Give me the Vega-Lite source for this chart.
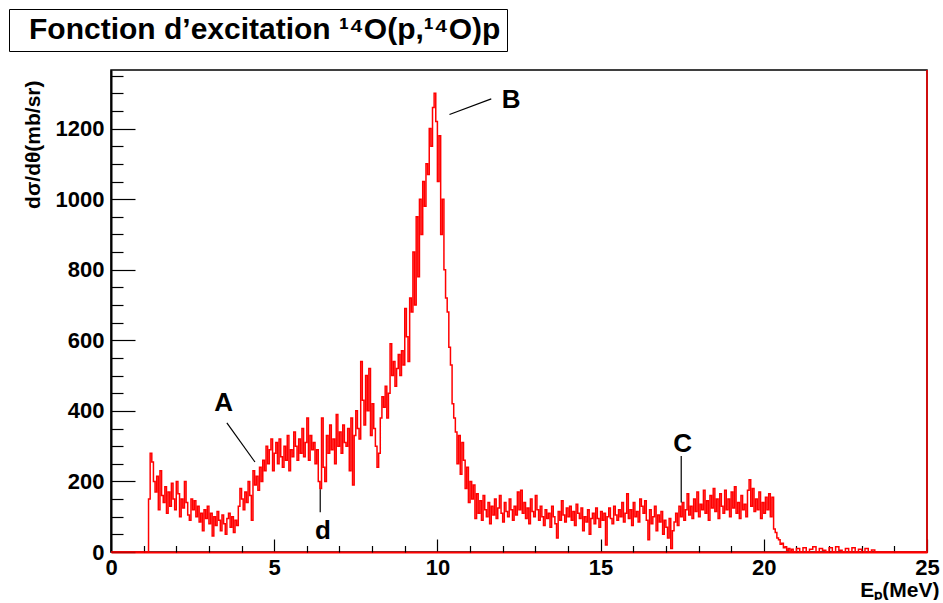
{
"$schema": "https://vega.github.io/schema/vega-lite/v6.json",
"padding": {"left": 8, "top": 8, "right": 0, "bottom": 0},
"background": "white",
"width": 816,
"height": 482,
"view": {"stroke": "black", "strokeWidth": 1.5},
"config": {
  "font": "Liberation Sans",
  "axis": {"labelFontWeight": "bold", "titleFontWeight": "bold", "labelColor": "black", "titleColor": "black", "tickColor": "black", "grid": false, "labelFontSize": 22, "titleFontSize": 21, "tickWidth": 1.2, "labelFlush": false}
},
"datasets": {
  "hist": [
{"E":0.0,"s":0},{"E":0.1,"s":0},{"E":0.2,"s":0},{"E":0.3,"s":0},{"E":0.4,"s":0},{"E":0.5,"s":0},{"E":0.6,"s":0},{"E":0.7,"s":0},{"E":0.8,"s":0},{"E":0.9,"s":0},{"E":1.0,"s":0},{"E":1.1,"s":0},
{"E":1.15,"s":150},{"E":1.2,"s":280},{"E":1.25,"s":255},{"E":1.3,"s":200},{"E":1.35,"s":170},{"E":1.4,"s":215},{"E":1.45,"s":120},{"E":1.5,"s":230},{"E":1.55,"s":160},{"E":1.6,"s":140},{"E":1.65,"s":185},{"E":1.7,"s":110},{"E":1.75,"s":170},{"E":1.8,"s":130},{"E":1.85,"s":195},{"E":1.9,"s":150},{"E":1.95,"s":120},
{"E":2.0,"s":200},{"E":2.05,"s":165},{"E":2.1,"s":100},{"E":2.15,"s":150},{"E":2.2,"s":125},{"E":2.25,"s":200},{"E":2.3,"s":140},{"E":2.35,"s":105},{"E":2.4,"s":90},{"E":2.45,"s":150},{"E":2.5,"s":120},{"E":2.55,"s":145},{"E":2.6,"s":100},{"E":2.65,"s":130},{"E":2.7,"s":85},{"E":2.75,"s":110},{"E":2.8,"s":60},{"E":2.85,"s":120},{"E":2.9,"s":95},{"E":2.95,"s":130},
{"E":3.0,"s":80},{"E":3.05,"s":110},{"E":3.1,"s":45},{"E":3.15,"s":100},{"E":3.2,"s":75},{"E":3.25,"s":115},{"E":3.3,"s":90},{"E":3.35,"s":60},{"E":3.4,"s":105},{"E":3.45,"s":80},{"E":3.5,"s":50},{"E":3.55,"s":95},{"E":3.6,"s":110},{"E":3.65,"s":70},{"E":3.7,"s":100},{"E":3.75,"s":55},{"E":3.8,"s":90},{"E":3.85,"s":75},{"E":3.9,"s":130},{"E":3.95,"s":180},
{"E":4.0,"s":150},{"E":4.05,"s":120},{"E":4.1,"s":170},{"E":4.15,"s":140},{"E":4.2,"s":200},{"E":4.25,"s":160},{"E":4.3,"s":90},{"E":4.35,"s":230},{"E":4.4,"s":190},{"E":4.45,"s":215},{"E":4.5,"s":175},{"E":4.55,"s":240},{"E":4.6,"s":200},{"E":4.65,"s":260},{"E":4.7,"s":230},{"E":4.75,"s":300},{"E":4.8,"s":250},{"E":4.85,"s":290},{"E":4.9,"s":320},{"E":4.95,"s":230},
{"E":5.0,"s":280},{"E":5.05,"s":310},{"E":5.1,"s":250},{"E":5.15,"s":320},{"E":5.2,"s":270},{"E":5.25,"s":240},{"E":5.3,"s":300},{"E":5.35,"s":260},{"E":5.4,"s":330},{"E":5.45,"s":230},{"E":5.5,"s":290},{"E":5.55,"s":270},{"E":5.6,"s":340},{"E":5.65,"s":300},{"E":5.7,"s":260},{"E":5.75,"s":320},{"E":5.8,"s":280},{"E":5.85,"s":350},{"E":5.9,"s":270},{"E":5.95,"s":310},
{"E":6.0,"s":380},{"E":6.05,"s":260},{"E":6.1,"s":330},{"E":6.15,"s":290},{"E":6.2,"s":310},{"E":6.25,"s":250},{"E":6.3,"s":290},{"E":6.35,"s":200},{"E":6.4,"s":180},{"E":6.45,"s":380},{"E":6.5,"s":240},{"E":6.55,"s":200},{"E":6.6,"s":330},{"E":6.65,"s":280},{"E":6.7,"s":360},{"E":6.75,"s":290},{"E":6.8,"s":320},{"E":6.85,"s":250},{"E":6.9,"s":390},{"E":6.95,"s":300},
{"E":7.0,"s":340},{"E":7.05,"s":280},{"E":7.1,"s":360},{"E":7.15,"s":310},{"E":7.2,"s":300},{"E":7.25,"s":350},{"E":7.3,"s":230},{"E":7.35,"s":380},{"E":7.4,"s":190},{"E":7.45,"s":330},{"E":7.5,"s":400},{"E":7.55,"s":350},{"E":7.6,"s":320},{"E":7.65,"s":540},{"E":7.7,"s":430},{"E":7.75,"s":360},{"E":7.8,"s":500},{"E":7.85,"s":400},{"E":7.9,"s":520},{"E":7.95,"s":330},
{"E":8.0,"s":420},{"E":8.05,"s":350},{"E":8.1,"s":300},{"E":8.15,"s":240},{"E":8.2,"s":280},{"E":8.25,"s":380},{"E":8.3,"s":440},{"E":8.35,"s":410},{"E":8.4,"s":470},{"E":8.45,"s":380},{"E":8.5,"s":450},{"E":8.55,"s":590},{"E":8.6,"s":500},{"E":8.65,"s":540},{"E":8.7,"s":470},{"E":8.75,"s":520},{"E":8.8,"s":560},{"E":8.85,"s":500},{"E":8.9,"s":570},{"E":8.95,"s":530},
{"E":9.0,"s":690},{"E":9.05,"s":610},{"E":9.1,"s":540},{"E":9.15,"s":720},{"E":9.2,"s":680},{"E":9.25,"s":850},{"E":9.3,"s":700},{"E":9.35,"s":950},{"E":9.4,"s":780},{"E":9.45,"s":1000},{"E":9.5,"s":900},{"E":9.55,"s":1050},{"E":9.6,"s":980},{"E":9.65,"s":1100},{"E":9.7,"s":1070},{"E":9.75,"s":1200},{"E":9.8,"s":1150},{"E":9.85,"s":1260},{"E":9.9,"s":1300},{"E":9.95,"s":1220},
{"E":10.0,"s":1050},{"E":10.05,"s":1180},{"E":10.1,"s":900},{"E":10.15,"s":1000},{"E":10.2,"s":800},{"E":10.25,"s":720},{"E":10.3,"s":680},{"E":10.35,"s":580},{"E":10.4,"s":530},{"E":10.45,"s":420},{"E":10.5,"s":380},{"E":10.55,"s":340},{"E":10.6,"s":250},{"E":10.65,"s":330},{"E":10.7,"s":220},{"E":10.75,"s":310},{"E":10.8,"s":260},{"E":10.85,"s":180},{"E":10.9,"s":240},{"E":10.95,"s":140},
{"E":11.0,"s":200},{"E":11.05,"s":150},{"E":11.1,"s":190},{"E":11.15,"s":95},{"E":11.2,"s":165},{"E":11.25,"s":110},{"E":11.3,"s":145},{"E":11.35,"s":90},{"E":11.4,"s":160},{"E":11.45,"s":120},{"E":11.5,"s":100},{"E":11.55,"s":140},{"E":11.6,"s":80},{"E":11.65,"s":130},{"E":11.7,"s":105},{"E":11.75,"s":150},{"E":11.8,"s":95},{"E":11.85,"s":125},{"E":11.9,"s":160},{"E":11.95,"s":110},
{"E":12.0,"s":85},{"E":12.05,"s":140},{"E":12.1,"s":115},{"E":12.15,"s":100},{"E":12.2,"s":150},{"E":12.25,"s":120},{"E":12.3,"s":90},{"E":12.35,"s":130},{"E":12.4,"s":105},{"E":12.45,"s":170},{"E":12.5,"s":120},{"E":12.55,"s":175},{"E":12.6,"s":110},{"E":12.65,"s":140},{"E":12.7,"s":95},{"E":12.75,"s":125},{"E":12.8,"s":80},{"E":12.85,"s":150},{"E":12.9,"s":115},{"E":12.95,"s":100},
{"E":13.0,"s":160},{"E":13.05,"s":120},{"E":13.1,"s":90},{"E":13.15,"s":130},{"E":13.2,"s":100},{"E":13.25,"s":75},{"E":13.3,"s":120},{"E":13.35,"s":95},{"E":13.4,"s":110},{"E":13.45,"s":70},{"E":13.5,"s":130},{"E":13.55,"s":100},{"E":13.6,"s":80},{"E":13.65,"s":40},{"E":13.7,"s":115},{"E":13.75,"s":90},{"E":13.8,"s":145},{"E":13.85,"s":105},{"E":13.9,"s":85},{"E":13.95,"s":125},
{"E":14.0,"s":100},{"E":14.05,"s":130},{"E":14.1,"s":90},{"E":14.15,"s":115},{"E":14.2,"s":75},{"E":14.25,"s":135},{"E":14.3,"s":110},{"E":14.35,"s":95},{"E":14.4,"s":125},{"E":14.45,"s":60},{"E":14.5,"s":100},{"E":14.55,"s":85},{"E":14.6,"s":120},{"E":14.65,"s":50},{"E":14.7,"s":95},{"E":14.75,"s":110},{"E":14.8,"s":80},{"E":14.85,"s":125},{"E":14.9,"s":95},{"E":14.95,"s":70},
{"E":15.0,"s":115},{"E":15.05,"s":90},{"E":15.1,"s":110},{"E":15.15,"s":20},{"E":15.2,"s":100},{"E":15.25,"s":125},{"E":15.3,"s":95},{"E":15.35,"s":80},{"E":15.4,"s":130},{"E":15.45,"s":105},{"E":15.5,"s":90},{"E":15.55,"s":120},{"E":15.6,"s":100},{"E":15.65,"s":140},{"E":15.7,"s":85},{"E":15.75,"s":110},{"E":15.8,"s":165},{"E":15.85,"s":95},{"E":15.9,"s":120},{"E":15.95,"s":75},
{"E":16.0,"s":140},{"E":16.05,"s":100},{"E":16.1,"s":115},{"E":16.15,"s":85},{"E":16.2,"s":150},{"E":16.25,"s":130},{"E":16.3,"s":110},{"E":16.35,"s":145},{"E":16.4,"s":90},{"E":16.45,"s":35},{"E":16.5,"s":120},{"E":16.55,"s":80},{"E":16.6,"s":100},{"E":16.65,"s":130},{"E":16.7,"s":60},{"E":16.75,"s":105},{"E":16.8,"s":85},{"E":16.85,"s":115},{"E":16.9,"s":50},{"E":16.95,"s":90},
{"E":17.0,"s":70},{"E":17.05,"s":40},{"E":17.1,"s":95},{"E":17.15,"s":10},{"E":17.2,"s":60},{"E":17.25,"s":85},{"E":17.3,"s":110},{"E":17.35,"s":75},{"E":17.4,"s":130},{"E":17.45,"s":100},{"E":17.5,"s":140},{"E":17.55,"s":90},{"E":17.6,"s":120},{"E":17.65,"s":165},{"E":17.7,"s":105},{"E":17.75,"s":130},{"E":17.8,"s":95},{"E":17.85,"s":150},{"E":17.9,"s":115},{"E":17.95,"s":170},
{"E":18.0,"s":100},{"E":18.05,"s":135},{"E":18.1,"s":120},{"E":18.15,"s":175},{"E":18.2,"s":110},{"E":18.25,"s":145},{"E":18.3,"s":90},{"E":18.35,"s":160},{"E":18.4,"s":125},{"E":18.45,"s":180},{"E":18.5,"s":115},{"E":18.55,"s":150},{"E":18.6,"s":95},{"E":18.65,"s":165},{"E":18.7,"s":130},{"E":18.75,"s":110},{"E":18.8,"s":175},{"E":18.85,"s":120},{"E":18.9,"s":150},{"E":18.95,"s":100},
{"E":19.0,"s":170},{"E":19.05,"s":125},{"E":19.1,"s":185},{"E":19.15,"s":110},{"E":19.2,"s":140},{"E":19.25,"s":95},{"E":19.3,"s":160},{"E":19.35,"s":120},{"E":19.4,"s":135},{"E":19.45,"s":100},{"E":19.5,"s":175},{"E":19.55,"s":205},{"E":19.6,"s":130},{"E":19.65,"s":180},{"E":19.7,"s":115},{"E":19.75,"s":150},{"E":19.8,"s":120},{"E":19.85,"s":170},{"E":19.9,"s":95},{"E":19.95,"s":140},
{"E":20.0,"s":110},{"E":20.05,"s":155},{"E":20.1,"s":120},{"E":20.15,"s":165},{"E":20.2,"s":100},{"E":20.25,"s":155},{"E":20.3,"s":65},{"E":20.35,"s":55},{"E":20.4,"s":40},{"E":20.45,"s":35},{"E":20.5,"s":22},{"E":20.55,"s":25},{"E":20.6,"s":12},{"E":20.65,"s":15},{"E":20.7,"s":5},{"E":20.75,"s":10},{"E":20.8,"s":0},{"E":20.85,"s":8},{"E":20.9,"s":0},
{"E":21.0,"s":10},{"E":21.1,"s":0},{"E":21.2,"s":12},{"E":21.3,"s":0},{"E":21.4,"s":8},{"E":21.5,"s":15},{"E":21.6,"s":0},{"E":21.7,"s":10},{"E":21.8,"s":5},{"E":21.9,"s":0},
{"E":22.0,"s":12},{"E":22.1,"s":0},{"E":22.2,"s":15},{"E":22.3,"s":5},{"E":22.4,"s":0},{"E":22.5,"s":10},{"E":22.6,"s":0},{"E":22.7,"s":12},{"E":22.8,"s":0},{"E":22.9,"s":8},
{"E":23.0,"s":0},{"E":23.1,"s":10},{"E":23.2,"s":0},{"E":23.3,"s":6},{"E":23.4,"s":0},{"E":23.5,"s":0},{"E":23.6,"s":0},{"E":23.7,"s":0},{"E":23.8,"s":0},{"E":23.9,"s":0},
{"E":24.0,"s":0},{"E":24.1,"s":0},{"E":24.2,"s":0},{"E":24.3,"s":0},{"E":24.4,"s":0},{"E":24.5,"s":0},{"E":24.6,"s":0},{"E":24.7,"s":0},{"E":24.8,"s":0},{"E":24.9,"s":0},{"E":25.0,"s":1366}
  ],
  "lines": [
    {"E":3.55,"s":366,"E2":4.41,"s2":255},
    {"E":10.37,"s":1240,"E2":11.65,"s2":1284},
    {"E":17.47,"s":272,"E2":17.47,"s2":140},
    {"E":6.41,"s":178,"E2":6.41,"s2":113}
  ],
  "labels": [
    {"E":3.45,"s":423,"t":"A"},
    {"E":12.26,"s":1282,"t":"B"},
    {"E":17.51,"s":307,"t":"C"},
    {"E":6.49,"s":59,"t":"d"}
  ],
  "titlebox": [
    {"t": "Fonction d’excitation ¹⁴O(p,¹⁴O)p"}
  ]
},
"resolve": {"axis": {"x": "independent", "y": "independent"}},
"layer": [
  {
    "data": {"name": "hist"},
    "mark": {"type": "line", "interpolate": "step-after", "color": "#ff0000", "strokeWidth": 1.5},
    "encoding": {
      "x": {"field": "E", "type": "quantitative", "scale": {"domain": [0, 25], "nice": false, "zero": false},
        "axis": {"orient": "bottom", "values": [0, 5, 10, 15, 20, 25], "format": "d", "tickSize": -13, "labelPadding": 18, "domain": true, "domainColor": "#ff0000", "domainWidth": 2,
          "title": "Eₚ(MeV)", "titleAnchor": "end", "titleAlign": "right", "titleX": 828, "titleY": 27, "titleBaseline": "top", "titleFontSize": 21}},
      "y": {"field": "s", "type": "quantitative", "scale": {"domain": [0, 1366], "nice": false},
        "axis": {"orient": "left", "values": [0, 200, 400, 600, 800, 1000, 1200], "format": "d", "tickSize": -24, "labelPadding": 31, "domain": true, "domainColor": "black", "domainWidth": 2,
          "title": "dσ/dθ(mb/sr)", "titleAnchor": "end", "titlePadding": 12, "titleFontSize": 21, "titleY": 10}}
    }
  },
  {
    "data": {"name": "lines"},
    "mark": {"type": "rule", "color": "black", "strokeWidth": 1.2},
    "encoding": {
      "x": {"field": "E", "type": "quantitative", "scale": {"domain": [0, 25], "nice": false, "zero": false},
        "axis": {"orient": "bottom", "values": [1,2,3,4,6,7,8,9,11,12,13,14,16,17,18,19,21,22,23,24], "tickSize": -6.5, "labels": false, "domain": false, "title": null}},
      "x2": {"field": "E2"},
      "y": {"field": "s", "type": "quantitative", "scale": {"domain": [0, 1366], "nice": false},
        "axis": {"orient": "left", "values": [50,100,150,250,300,350,450,500,550,650,700,750,850,900,950,1050,1100,1150,1250,1300,1350], "tickSize": -12, "labels": false, "domain": false, "title": null}},
      "y2": {"field": "s2"}
    }
  },
  {
    "data": {"name": "labels"},
    "mark": {"type": "text", "fontSize": 26, "fontWeight": "bold", "color": "black", "baseline": "middle"},
    "encoding": {
      "x": {"field": "E", "type": "quantitative", "scale": {"domain": [0, 25], "nice": false, "zero": false}, "axis": null},
      "y": {"field": "s", "type": "quantitative", "scale": {"domain": [0, 1366], "nice": false}, "axis": null},
      "text": {"field": "t", "type": "nominal"}
    }
  },
  {
    "data": {"name": "titlebox"},
    "mark": {"type": "point", "opacity": 0},
    "encoding": {
      "color": {"field": "t", "type": "nominal", "scale": {"range": ["black"]},
        "legend": {"title": null, "orient": "none", "legendX": -102, "legendY": -61, "strokeColor": "black", "fillColor": "white", "padding": 6,
          "labelFontSize": 30, "labelFontWeight": "bold", "labelColor": "black", "labelLimit": 0, "labelOffset": -16,
          "symbolSize": 1, "symbolOpacity": 0, "symbolStrokeWidth": 0, "symbolType": "square"}}
    }
  }
]
}
